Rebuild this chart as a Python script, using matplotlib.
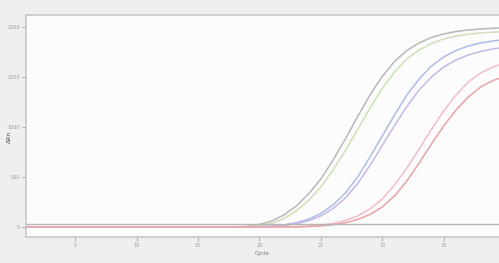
import matplotlib
matplotlib.use("Agg")
import matplotlib.pyplot as plt

cycles = list(range(1, 41))

gray   = [0] * 17 + [0, 5, 25, 60, 120, 210, 330, 480, 670, 880, 1105, 1320, 1505, 1655, 1765, 1840, 1895, 1930, 1955, 1970, 1980, 1987, 1992]
green  = [0] * 18 + [2, 12, 38, 85, 160, 265, 400, 570, 765, 975, 1190, 1385, 1550, 1680, 1770, 1835, 1880, 1910, 1928, 1940, 1948, 1953]
blue   = [0] * 19 + [2, 8, 20, 42, 78, 135, 220, 340, 500, 700, 910, 1120, 1320, 1480, 1610, 1700, 1765, 1810, 1840, 1860, 1875]
purple = [0] * 19 + [1, 5, 14, 32, 62, 110, 185, 290, 435, 615, 815, 1015, 1205, 1370, 1500, 1600, 1670, 1720, 1755, 1780, 1800]
pink   = [0] * 21 + [0, 3, 8, 18, 35, 65, 110, 180, 280, 420, 590, 780, 975, 1160, 1320, 1450, 1540, 1600, 1640]
red    = [0] * 22 + [0, 4, 10, 22, 42, 75, 125, 200, 310, 460, 640, 830, 1010, 1170, 1300, 1400, 1465, 1505]

series = [
    (gray, "#b8b8b8"),
    (green, "#cde0b8"),
    (blue, "#aebbe6"),
    (purple, "#c6b8e6"),
    (pink, "#f2bccb"),
    (red, "#e8a4a4"),
]

threshold = 30
xticks = [5, 10, 15, 20, 25, 30, 35]
yticks = [0, 500, 1000, 1500, 2000]

fig = plt.figure(figsize=(4.99, 2.63), dpi=100, facecolor="#efefef")
ax = fig.add_axes([0.052, 0.099, 0.948, 0.844])
ax.set_facecolor("#fcfcfc")

for vals, col in series:
    ax.plot(cycles, vals, color=col, lw=1.1)

ax.axhline(threshold, color="#b5b5b5", lw=1.0)

ax.set_xlim(1, 39.5)
ax.set_ylim(-100, 2120)
ax.set_xticks(xticks)
ax.set_yticks(yticks)
ax.tick_params(labelsize=3.5, colors="#999999", length=3, width=0.6, pad=1.5)
for s in ["left", "bottom", "top"]:
    ax.spines[s].set_color("#c8c8c8")
    ax.spines[s].set_linewidth(1.2)
ax.spines["right"].set_visible(False)
ax.set_xlabel("Cycle", fontsize=4, color="#777777", labelpad=2)
ax.set_ylabel("ΔRn", fontsize=4.5, color="#555555")
ax.yaxis.set_label_coords(-0.03, 0.45)

fig.savefig("out.png", dpi=100, facecolor=fig.get_facecolor())
